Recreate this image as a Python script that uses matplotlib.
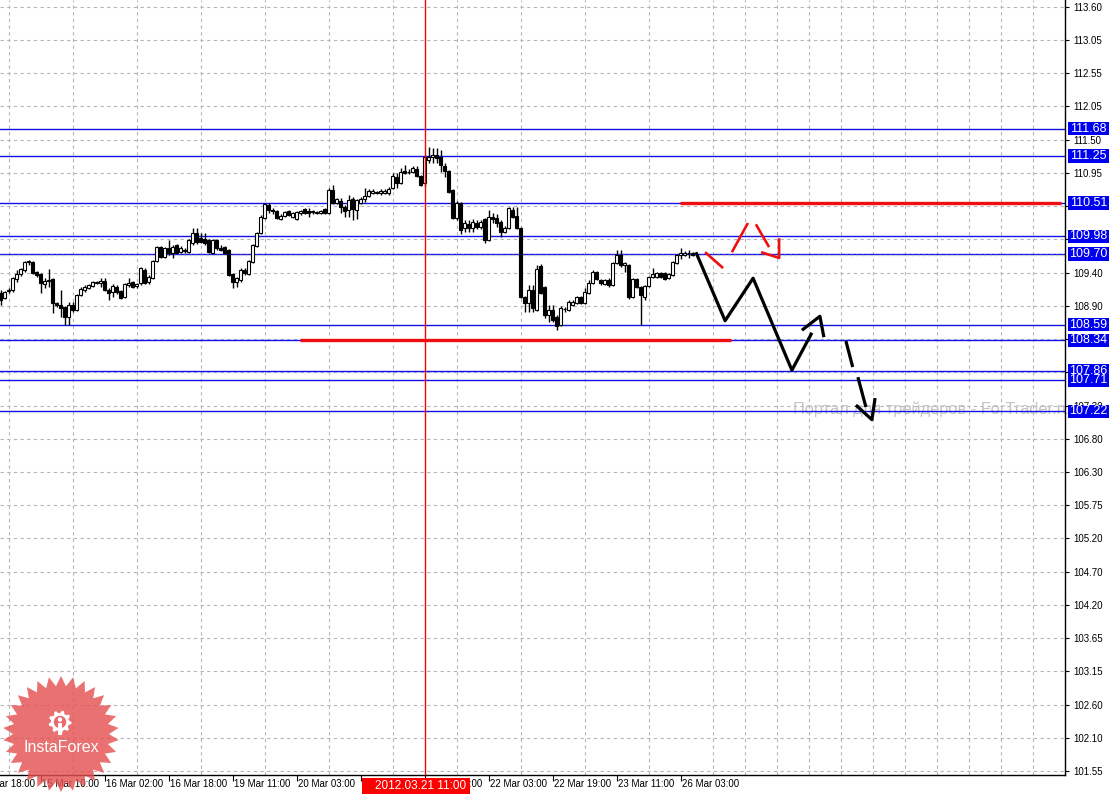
import numpy as np
import matplotlib
matplotlib.use('Agg')
import matplotlib.pyplot as plt
import matplotlib.transforms as mtransforms
from matplotlib.patches import Rectangle, Polygon, Circle

plt.rcParams['font.family'] = ['Liberation Sans', 'DejaVu Sans']

# H1 candles, one per bar (bar index = position on the time axis)
opens = [109.09, 109.01, 109.12, 109.13, 109.31, 109.39, 109.45, 109.58, 109.58, 109.42,
         109.39, 109.23, 109.28, 109.31, 108.93, 108.90, 108.87, 108.71, 108.90, 108.82,
         109.06, 109.13, 109.17, 109.20, 109.24, 109.24, 109.28, 109.13, 109.10, 109.18,
         109.12, 109.02, 109.21, 109.26, 109.20, 109.24, 109.45, 109.26, 109.32, 109.59,
         109.81, 109.65, 109.80, 109.72, 109.84, 109.73, 109.76, 109.73, 109.88, 110.03,
         109.95, 109.94, 109.92, 109.72, 109.92, 109.80, 109.81, 109.77, 109.39, 109.26,
         109.29, 109.45, 109.39, 109.58, 109.83, 110.03, 110.27, 110.47, 110.40, 110.38,
         110.25, 110.30, 110.38, 110.29, 110.25, 110.35, 110.41, 110.38, 110.37, 110.35,
         110.35, 110.41, 110.35, 110.71, 110.51, 110.54, 110.44, 110.40, 110.57, 110.40,
         110.51, 110.57, 110.62, 110.66, 110.67, 110.67, 110.66, 110.66, 110.74, 110.91,
         110.82, 111.01, 110.99, 110.99, 111.04, 110.93, 110.82, 111.18, 111.23, 111.26,
         111.23, 111.09, 111.01, 110.71, 110.27, 110.51, 110.11, 110.18, 110.11, 110.19,
         110.13, 110.25, 109.92, 110.29, 110.27, 110.21, 110.05, 110.11, 110.40, 110.30,
         110.11, 109.02, 108.93, 109.13, 108.82, 109.51, 109.18, 108.74, 108.82, 108.71,
         108.58, 108.84, 108.82, 108.90, 108.93, 109.02, 108.93, 109.09, 109.24, 109.42,
         109.29, 109.23, 109.29, 109.21, 109.56, 109.69, 109.53, 109.53, 109.02, 109.31,
         109.18, 109.02, 109.20, 109.34, 109.34, 109.40, 109.40, 109.32, 109.37, 109.56,
         109.69, 109.69, 109.72, 109.72]
highs = [109.13, 109.12, 109.17, 109.34, 109.45, 109.48, 109.59, 109.61, 109.59, 109.43,
         109.40, 109.32, 109.47, 109.32, 108.94, 109.13, 108.88, 108.95, 108.95, 109.07,
         109.18, 109.21, 109.23, 109.28, 109.28, 109.32, 109.32, 109.17, 109.23, 109.21,
         109.13, 109.24, 109.32, 109.28, 109.24, 109.50, 109.48, 109.37, 109.61, 109.83,
         109.83, 109.81, 109.92, 109.84, 109.86, 109.83, 109.79, 109.94, 110.11, 110.11,
         110.03, 110.03, 109.94, 109.94, 109.94, 109.84, 109.83, 109.78, 109.40, 109.34,
         109.48, 109.48, 109.61, 109.86, 110.05, 110.32, 110.51, 110.51, 110.43, 110.40,
         110.33, 110.38, 110.40, 110.36, 110.38, 110.40, 110.43, 110.43, 110.40, 110.38,
         110.40, 110.43, 110.74, 110.79, 110.59, 110.59, 110.47, 110.63, 110.60, 110.57,
         110.60, 110.74, 110.73, 110.73, 110.70, 110.73, 110.73, 110.76, 110.98, 110.98,
         111.06, 111.10, 111.04, 111.09, 111.09, 110.95, 111.26, 111.39, 111.37, 111.37,
         111.34, 111.14, 111.03, 110.73, 110.54, 110.52, 110.24, 110.24, 110.25, 110.24,
         110.24, 110.27, 110.40, 110.35, 110.33, 110.24, 110.14, 110.44, 110.44, 110.44,
         110.13, 109.04, 109.21, 109.21, 109.53, 109.54, 109.20, 108.90, 108.90, 108.74,
         108.88, 108.87, 108.98, 108.98, 109.04, 109.04, 109.17, 109.29, 109.45, 109.43,
         109.31, 109.31, 109.32, 109.58, 109.77, 109.77, 109.58, 109.54, 109.32, 109.32,
         109.20, 109.21, 109.36, 109.48, 109.42, 109.42, 109.42, 109.40, 109.59, 109.70,
         109.80, 109.75, 109.77, 109.74]
lows = [108.90, 108.99, 109.09, 109.10, 109.26, 109.36, 109.42, 109.53, 109.39, 109.34,
        109.09, 109.17, 109.18, 108.77, 108.87, 108.71, 108.58, 108.58, 108.79, 108.80,
        109.04, 109.10, 109.15, 109.18, 109.23, 109.18, 109.12, 108.98, 109.02, 109.07,
        108.99, 109.01, 109.18, 109.17, 109.17, 109.21, 109.23, 109.23, 109.31, 109.58,
        109.64, 109.64, 109.69, 109.64, 109.72, 109.72, 109.72, 109.72, 109.84, 109.86,
        109.88, 109.84, 109.72, 109.70, 109.77, 109.75, 109.70, 109.36, 109.17, 109.18,
        109.26, 109.37, 109.37, 109.56, 109.81, 110.02, 110.25, 110.35, 110.33, 110.25,
        110.24, 110.28, 110.30, 110.27, 110.24, 110.32, 110.33, 110.29, 110.33, 110.33,
        110.33, 110.33, 110.33, 110.49, 110.49, 110.35, 110.29, 110.29, 110.24, 110.25,
        110.49, 110.52, 110.60, 110.65, 110.65, 110.63, 110.65, 110.63, 110.73, 110.74,
        110.80, 110.96, 110.96, 110.98, 110.92, 110.77, 110.77, 111.14, 111.14, 111.14,
        110.99, 110.92, 110.67, 110.25, 110.24, 110.02, 110.05, 110.05, 110.05, 110.10,
        110.10, 109.88, 109.91, 110.19, 110.13, 109.97, 110.03, 110.10, 110.27, 110.10,
        109.01, 108.79, 108.79, 108.79, 108.80, 109.07, 108.69, 108.63, 108.63, 108.50,
        108.57, 108.79, 108.80, 108.88, 108.91, 108.91, 108.91, 109.07, 109.23, 109.29,
        109.21, 109.21, 109.18, 109.20, 109.54, 109.50, 109.42, 108.99, 109.01, 109.17,
        108.58, 108.98, 109.18, 109.32, 109.32, 109.32, 109.29, 109.31, 109.36, 109.54,
        109.63, 109.67, 109.64, 109.67]
closes = [108.98, 109.10, 109.13, 109.32, 109.39, 109.47, 109.58, 109.59, 109.40, 109.37,
          109.24, 109.28, 109.29, 108.93, 108.90, 108.85, 108.71, 108.90, 108.82, 109.06,
          109.15, 109.18, 109.21, 109.26, 109.26, 109.28, 109.13, 109.09, 109.20, 109.10,
          109.01, 109.23, 109.24, 109.18, 109.23, 109.48, 109.24, 109.34, 109.59, 109.81,
          109.65, 109.80, 109.72, 109.81, 109.72, 109.80, 109.75, 109.92, 110.03, 109.89,
          109.89, 109.88, 109.73, 109.92, 109.80, 109.77, 109.72, 109.37, 109.26, 109.32,
          109.45, 109.40, 109.59, 109.84, 110.03, 110.29, 110.49, 110.40, 110.38, 110.27,
          110.30, 110.36, 110.32, 110.35, 110.36, 110.38, 110.35, 110.35, 110.38, 110.36,
          110.38, 110.35, 110.71, 110.51, 110.57, 110.44, 110.38, 110.55, 110.41, 110.55,
          110.57, 110.62, 110.70, 110.70, 110.67, 110.70, 110.70, 110.73, 110.93, 110.82,
          110.99, 110.98, 111.00, 111.06, 110.93, 110.79, 111.23, 111.23, 111.26, 111.22,
          111.10, 111.01, 110.68, 110.27, 110.51, 110.08, 110.19, 110.11, 110.21, 110.13,
          110.21, 109.92, 110.29, 110.25, 110.19, 110.05, 110.11, 110.43, 110.29, 110.11,
          109.02, 108.93, 109.13, 108.85, 109.47, 109.09, 108.74, 108.82, 108.66, 108.57,
          108.85, 108.83, 108.95, 108.95, 109.02, 108.93, 109.10, 109.24, 109.42, 109.31,
          109.24, 109.29, 109.21, 109.56, 109.69, 109.53, 109.56, 109.02, 109.31, 109.18,
          109.06, 109.20, 109.34, 109.39, 109.40, 109.34, 109.31, 109.39, 109.58, 109.69,
          109.71, 109.72, 109.71, 109.69]

# horizontal support / resistance levels (blue lines + boxes on the price scale)
levels = [111.68, 111.25, 110.51, 109.98, 109.70, 108.59, 108.34, 107.86, 107.71, 107.22]
bid_price = 109.68

# price scale (empty strings: labels hidden under the level boxes)
ytick_labels = ['113.60', '113.05', '112.55', '112.05', '111.50', '110.95', '', '',
                '109.40', '108.90', '', '', '107.30', '106.80', '106.30', '105.75',
                '105.20', '104.70', '104.20', '103.65', '103.15', '102.60', '102.10', '101.55']
y_top, y_bottom = 113.706, 101.488

# time scale (bar index -> label)
date_bars = [-6, 10, 26, 42, 58, 74, 90, 106, 122, 138, 154, 170]
date_labels = ['14 Mar 18:00', '15 Mar 10:00', '16 Mar 02:00', '16 Mar 18:00', '19 Mar 11:00',
               '20 Mar 03:00', '20 Mar 19:00', '21 Mar 11:00', '22 Mar 03:00', '22 Mar 19:00',
               '23 Mar 11:00', '26 Mar 03:00']
n_bars_view = 266

marker_bar = 106
marker_label = '2012.03.21 11:00'

# thick red levels: (price, from bar, to bar)
red_levels = [(110.51, 169.8, 265.1), (108.34, 74.8, 182.6)]

# hand-drawn forecast (bar, price)
black_path_x = [173.8, 181.1, 188.1, 197.8, 202.8]
black_path_y = [109.73, 108.65, 109.32, 107.87, 108.46]
black_head_x = [200.3, 204.8, 205.8]
black_head_y = [108.50, 108.72, 108.39]
black_dash_x = [[211.3, 213.0], [214.3, 216.3]]
black_dash_y = [[108.33, 107.92], [107.76, 107.29]]
black_tip_x = [213.8, 217.8, 218.6]
black_tip_y = [107.32, 107.09, 107.43]

red_strokes_x = [[176.1, 180.6], [182.8, 186.8], [188.8, 192.1], [190.1, 194.6, 194.6]]
red_strokes_y = [[109.73, 109.48], [109.73, 110.19], [110.17, 109.81], [109.73, 109.64, 109.95]]

watermark = 'Портал для трейдеров - ForTrader.ru'

W, H = 1109, 795
grid_col = '#b4b4bc'
blue = '#1212e8'

fig = plt.figure(figsize=(W / 100, H / 100), dpi=100)
fig.patch.set_facecolor('white')
ax = fig.add_axes([0, 20 / H, 1064.7 / W, 775 / H])
ax.set_xlim(-0.175, n_bars_view)
ax.set_ylim(y_bottom, y_top)

for s in ['left', 'top']:
    ax.spines[s].set_visible(False)
for s in ['right', 'bottom']:
    ax.spines[s].set_color('black')
    ax.spines[s].set_linewidth(1.0)

# price axis on the right
ax.yaxis.tick_right()
ytick_pos = np.linspace(113.60, 101.55, len(ytick_labels))
ax.set_yticks(ytick_pos)
ax.set_yticklabels(ytick_labels)
ax.tick_params(axis='y', direction='out', length=3, width=0.8, pad=3, labelsize=7, colors='black')

# time axis ticks, grid every 8 bars
ax.set_xticks([b for b in date_bars if 0 <= b <= n_bars_view])
ax.set_xticklabels([])
ax.set_xticks(np.arange(2, n_bars_view + 1, 8), minor=True)
ax.tick_params(axis='x', which='major', direction='out', length=4, width=0.8)
ax.tick_params(axis='x', which='minor', length=0)
ax.grid(axis='x', which='minor', color=grid_col, linestyle=(0, (3, 3)), linewidth=0.8)
ax.grid(axis='y', which='major', color=grid_col, linestyle=(0, (3, 3)), linewidth=0.8)
ax.set_axisbelow(True)

tr_xfig = mtransforms.blended_transform_factory(ax.transData, fig.transFigure)
for b, lab in zip(date_bars, date_labels):
    ax.text(b + 0.3, (H - 779) / H, lab, transform=tr_xfig, ha='left', va='top',
            fontsize=7, color='black', clip_on=False)

# watermark
ax.text(198.1, 107.26, watermark, fontsize=11.8, color='#c4c4c4', ha='left', va='center', zorder=1)

# levels
for lv in levels:
    ax.axhline(lv, color=blue, linewidth=1.0, zorder=2)
ax.axhline(bid_price, color='#c8c8c8', linewidth=1.0, linestyle=(0, (2, 2)), zorder=2)

# candles
x = np.arange(len(opens))
o = np.array(opens)
h = np.array(highs)
l = np.array(lows)
c = np.array(closes)
ax.vlines(x, l, h, color='black', linewidth=1.0, zorder=3)
body_bottom = np.minimum(o, c)
body_h = np.maximum(np.abs(c - o), 0.006)
face = ['white' if cc >= oo else 'black' for oo, cc in zip(o, c)]
ax.bar(x, body_h, bottom=body_bottom, width=0.7, color=face, edgecolor='black',
       linewidth=0.8, zorder=4)

# vertical marker line
ax.axvline(marker_bar, color='#ff0000', linewidth=1.0, zorder=6)

# thick red levels
for price, b0, b1 in red_levels:
    ax.hlines(price, b0, b1, color='#ee1010', linewidth=2.4, zorder=6)

# forecast drawings
ax.plot(black_path_x, black_path_y, color='black', linewidth=2.3, zorder=7, solid_capstyle='butt')
ax.plot(black_head_x, black_head_y, color='black', linewidth=2.3, zorder=7, solid_capstyle='butt')
for xs, ys in zip(black_dash_x, black_dash_y):
    ax.plot(xs, ys, color='black', linewidth=2.3, zorder=7, solid_capstyle='butt')
ax.plot(black_tip_x, black_tip_y, color='black', linewidth=2.3, zorder=7, solid_capstyle='butt')
for xs, ys in zip(red_strokes_x, red_strokes_y):
    ax.plot(xs, ys, color='#ee1010', linewidth=1.9, zorder=7, solid_capstyle='butt')

# boxes on the price scale
tr_figx = mtransforms.blended_transform_factory(fig.transFigure, ax.transData)
px_price = (y_top - y_bottom) / 775
for lv in levels:
    ax.add_patch(Rectangle((1068 / W, lv - 6.8 * px_price), 41 / W, 13.6 * px_price,
                           facecolor='#0000f0', edgecolor='none', transform=tr_figx,
                           clip_on=False, zorder=10))
    ax.text(1088.5 / W, lv, f'{lv:.2f}', transform=tr_figx, ha='center', va='center',
            fontsize=9, color='white', clip_on=False, zorder=11)

# box on the time scale
ax.add_patch(Rectangle((90.3, (H - 794) / H), 27.0, 16 / H, facecolor='#ff0000',
                       edgecolor='none', transform=tr_xfig, clip_on=False, zorder=10))
ax.text(marker_bar - 1.0, (H - 786) / H, marker_label, transform=tr_xfig, ha='center',
        va='center', fontsize=8.5, color='white', clip_on=False, zorder=11)

# InstaForex badge
lax = fig.add_axes([0, 0, 1, 1], zorder=20)
lax.set_xlim(0, W)
lax.set_ylim(H, 0)
lax.axis('off')
lax.patch.set_alpha(0)
cx, cy = 61, 734
n_pts = 30
ang = np.linspace(0, 2 * np.pi, 2 * n_pts, endpoint=False) - np.pi / 2
rad = np.where(np.arange(2 * n_pts) % 2 == 0, 58, 48)
lax.add_patch(Polygon(np.column_stack([cx + rad * np.cos(ang), cy + rad * np.sin(ang)]),
                      closed=True, facecolor='#e65252', edgecolor='none', alpha=0.82))
gx, gy = 60, 722
n_teeth = 9
ga = np.linspace(0, 2 * np.pi, 4 * n_teeth, endpoint=False)
gr = np.where((np.arange(4 * n_teeth) // 2) % 2 == 0, 11.5, 9)
lax.add_patch(Polygon(np.column_stack([gx + gr * np.cos(ga), gy + gr * np.sin(ga)]),
                      closed=True, facecolor='white', edgecolor='none'))
lax.add_patch(Circle((gx, gy), 6.2, facecolor='#e86a6a', edgecolor='none'))
lax.add_patch(Circle((gx, gy - 2.5), 2.2, facecolor='white', edgecolor='none'))
lax.add_patch(Rectangle((gx - 1.6, gy + 0.5), 3.2, 12, facecolor='white', edgecolor='none'))
lax.text(cx, 747, 'InstaForex', ha='center', va='center', fontsize=11.5, color='white')

fig.savefig('out.png', dpi=100, facecolor='white')
